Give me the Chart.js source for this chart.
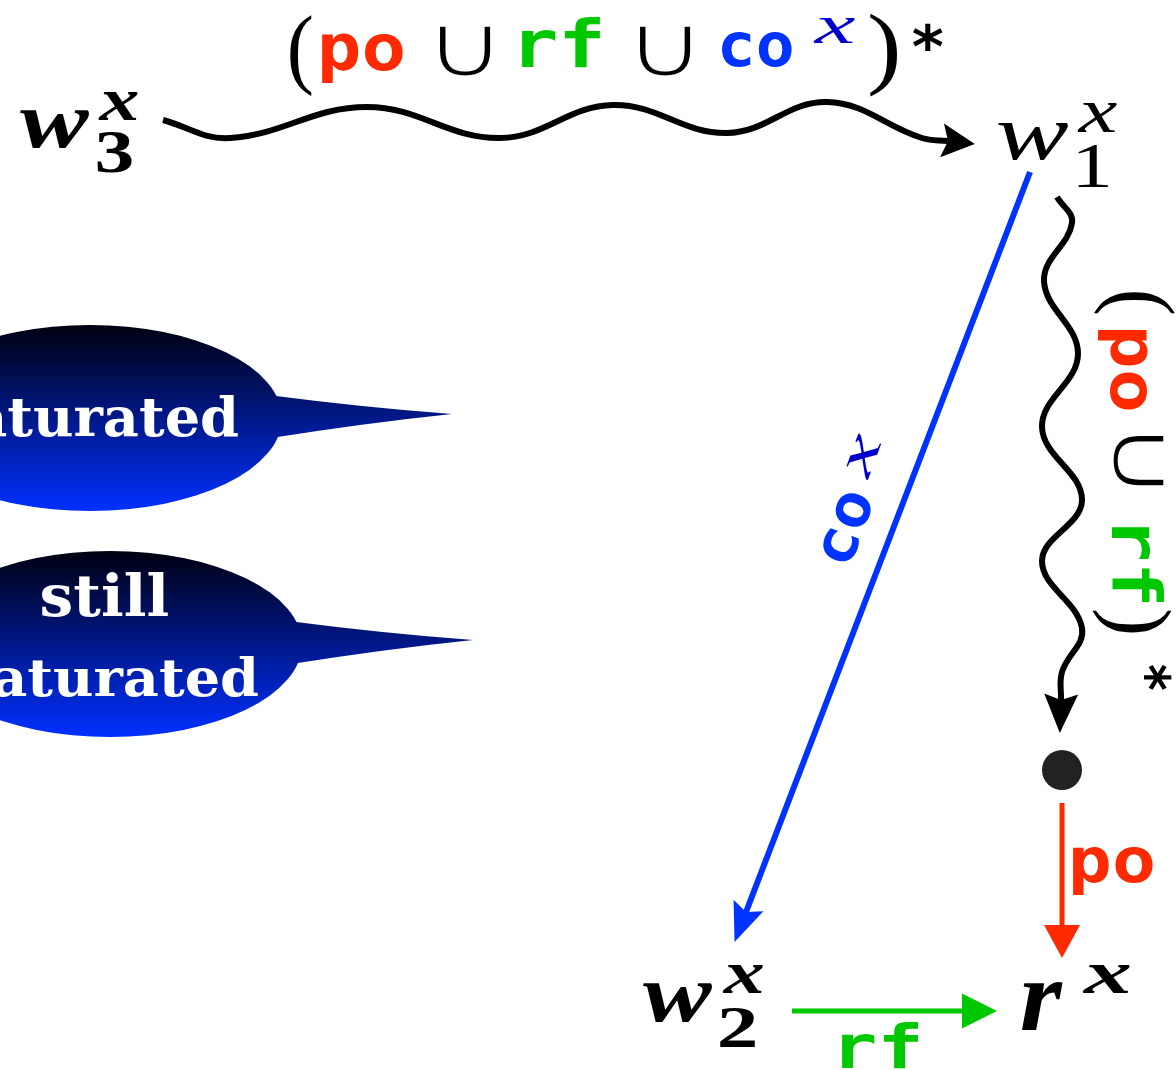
<!DOCTYPE html>
<html>
<head>
<meta charset="utf-8">
<script src="https://cdn.jsdelivr.net/npm/chart.js@4.4.0/dist/chart.umd.min.js"></script>
<style>
  html, body { margin: 0; padding: 0; background: #fff; }
  canvas { display: block; }
</style>
</head>
<body>
<canvas id="diagram" width="1176" height="1070"></canvas>
<script>
// path points (pixel units of the 1176x1070 frame)
const topWaveX = [163, 230, 367, 500, 613, 727, 827, 922, 948];
const topWaveY = [120, 138, 107, 138, 105, 133, 102, 138, 141];
const sideWaveX = [1057, 1072, 1044, 1078, 1042, 1082, 1042, 1082, 1062, 1061];
const sideWaveY = [197, 223, 281, 354, 427, 500, 561, 628, 672, 700];
const coEdgeX = [1030, 746];
const coEdgeY = [172, 912];
const poEdgeX = [1062, 1062];
const poEdgeY = [803, 925];
const rfEdgeX = [792, 962];
const rfEdgeY = [1011, 1011];
const dotX = [1062];
const dotY = [770];

// speech bubbles
const bubbleX = [90, 110];
const bubbleY = [418, 644];
const bubbleTipX = [452, 473];
const bubbleTipY = [414, 640];

const RED = '#ff2a00';
const GREEN = '#00c800';
const BLUE = '#0033ff';
const DARKBLUE = '#0000cc';
const BLACK = '#000000';

const pts = (xs, ys) => xs.map((x, i) => ({ x: x, y: ys[i] }));

// arrow heads per dataset: length, half width, back sweep (0 = plain triangle)
const heads = [
  { len: 27, half: 17, sweep: 6 },
  { len: 33, half: 17, sweep: 6 },
  { len: 32, half: 16, sweep: 7 },
  { len: 33, half: 18, sweep: 0 },
  { len: 35, half: 17.5, sweep: 0 },
  null
];

// text pieces: text, font, centre x, centre y, width, height, rotation, colour, thin
const SERIF = '{s}px "Liberation Serif"';
const MATH = 'italic {s}px "Liberation Serif"';
const BMATH = 'italic bold {s}px "Liberation Serif"';
const BNUM = 'bold {s}px "Liberation Serif"';
const MONO = 'bold {s}px "DejaVu Sans Mono"';
const CUP = '{s}px "DejaVu Sans"';
const STAR = 'bold {s}px "DejaVu Sans"';
const BUB = 'bold {s}px "DejaVu Serif"';

const texts = [
  // (po ∪ rf ∪ co^x)*
  ['(', SERIF, 301, 56, 22, 82, 0, BLACK],
  ['po', MONO, 362.5, 58, 81, 50, 0, RED],
  ['\u222A', CUP, 465, 51, 56, 52, 0, BLACK, 1.6],
  ['rf', MONO, 561, 42, 78, 50, 0, GREEN],
  ['\u222A', CUP, 665, 51, 56, 52, 0, BLACK, 1.6],
  ['co', MONO, 757, 49.5, 70, 35, 0, BLUE],
  ['x', MATH, 834, 30.5, 42, 25, 0, DARKBLUE],
  [')', SERIF, 883.5, 55, 27, 84, 0, BLACK],
  ['*', STAR, 928, 36, 30, 28, 0, BLACK],
  // nodes
  ['w', BMATH, 55, 129, 70, 38, 0, BLACK],
  ['x', BMATH, 118, 106, 40, 28, 0, BLACK],
  ['3', BNUM, 114.5, 152.5, 35, 41, 0, BLACK],
  ['w', MATH, 1033, 141.5, 70, 37, 0, BLACK],
  ['x', MATH, 1097, 117.5, 40, 29, 0, BLACK],
  ['1', SERIF, 1093, 166, 30, 42, 0, BLACK],
  ['w', BMATH, 678, 1002.5, 70, 39, 0, BLACK],
  ['x', BMATH, 742.5, 979, 41, 28, 0, BLACK],
  ['2', BNUM, 737.5, 1028, 35, 40, 0, BLACK],
  ['r', BMATH, 1042.5, 1006, 41, 48, 0, BLACK],
  ['x', BMATH, 1106, 979, 48, 28, 0, BLACK],
  // edge labels
  ['rf', MONO, 880, 1045, 76, 46, 0, GREEN],
  ['po', MONO, 1113, 871, 80, 48, 0, RED],
  ['co', MONO, 846.5, 527, 70, 35, -70, BLUE],
  ['x', MATH, 863, 457, 42, 25, -70, DARKBLUE],
  // (po ∪ rf)* along the right edge
  ['(', SERIF, 1134, 303, 22, 82, 90, BLACK],
  ['po', MONO, 1123, 370, 80, 50, 90, RED],
  ['\u222A', CUP, 1138.5, 460.5, 55, 53, 90, BLACK, 1.6],
  ['rf', MONO, 1137.5, 564.5, 75, 51, 90, GREEN],
  [')', SERIF, 1132, 621.5, 22, 80, 90, BLACK],
  ['*', STAR, 1159, 677.5, 25, 28, 90, BLACK]
];

const bubbleTexts = [
  ['saturated', BUB, 90, 416, 296, 42, 0, '#ffffff'],
  ['still', BUB, 105, 595, 126, 44, 0, '#ffffff'],
  ['saturated', BUB, 110, 677, 296, 40, 0, '#ffffff']
];

function drawPiece(ctx, p, xs, ys) {
  const [text, font, cx, cy, w, h, rot, color, thin] = p;
  ctx.save();
  ctx.font = font.replace('{s}', '100');
  const m = ctx.measureText(text);
  const L = m.actualBoundingBoxLeft, R = m.actualBoundingBoxRight;
  const A = m.actualBoundingBoxAscent, D = m.actualBoundingBoxDescent;
  const sy = h / (A + D);
  const sx = w ? w / (L + R) : sy;
  ctx.translate(xs.getPixelForValue(cx), ys.getPixelForValue(cy));
  ctx.rotate(rot * Math.PI / 180);
  ctx.scale(sx, sy);
  ctx.fillStyle = color;
  ctx.textAlign = 'left';
  ctx.textBaseline = 'alphabetic';
  const ox = -(R - L) / 2, oy = (A - D) / 2;
  ctx.fillText(text, ox, oy);
  if (thin) {
    // erode the glyph a little so the union sign keeps a light stroke
    ctx.strokeStyle = '#ffffff';
    ctx.lineWidth = 2 * thin / Math.min(sx, sy);
    ctx.lineJoin = 'round';
    ctx.strokeText(text, ox, oy);
  }
  ctx.restore();
}

const bubblePlugin = {
  id: 'bubbles',
  beforeDatasetsDraw(chart) {
    const ctx = chart.ctx;
    const xs = chart.scales.x, ys = chart.scales.y;
    const rx = 192, ry = 93;
    bubbleX.forEach((bx, i) => {
      const cx = xs.getPixelForValue(bx), cy = ys.getPixelForValue(bubbleY[i]);
      const tx = xs.getPixelForValue(bubbleTipX[i]), ty = ys.getPixelForValue(bubbleTipY[i]);
      const a1 = -0.25, a2 = 0.22;
      const p1 = [cx + rx * Math.cos(a1), cy + ry * Math.sin(a1)];
      const p2 = [cx + rx * Math.cos(a2), cy + ry * Math.sin(a2)];
      const g = ctx.createLinearGradient(0, cy - ry, 0, cy + ry);
      g.addColorStop(0, '#000010');
      g.addColorStop(1, '#0030ff');
      ctx.save();
      ctx.fillStyle = g;
      ctx.beginPath();
      ctx.ellipse(cx, cy, rx, ry, 0, 0, Math.PI * 2);
      ctx.fill();
      ctx.beginPath();
      ctx.moveTo(p1[0] - 8, p1[1]);
      ctx.quadraticCurveTo((p1[0] + tx) / 2, (p1[1] + ty) / 2 + 3, tx, ty);
      ctx.quadraticCurveTo((p2[0] + tx) / 2, (p2[1] + ty) / 2 - 3, p2[0] - 8, p2[1]);
      ctx.closePath();
      ctx.fill();
      ctx.restore();
    });
    bubbleTexts.forEach(p => drawPiece(ctx, p, xs, ys));
  }
};

const arrowPlugin = {
  id: 'arrows',
  afterDatasetsDraw(chart) {
    const ctx = chart.ctx;
    chart.data.datasets.forEach((ds, i) => {
      const h = heads[i];
      if (!h) return;
      const meta = chart.getDatasetMeta(i);
      const n = meta.data.length;
      const a = meta.data[n - 2], b = meta.data[n - 1];
      let ux = b.x - a.x, uy = b.y - a.y;
      const d = Math.hypot(ux, uy);
      ux /= d; uy /= d;
      const nx = -uy, ny = ux;
      const tip = [b.x + h.len * ux, b.y + h.len * uy];
      ctx.save();
      ctx.fillStyle = ds.borderColor;
      ctx.beginPath();
      ctx.moveTo(tip[0], tip[1]);
      ctx.lineTo(b.x - h.sweep * ux + h.half * nx, b.y - h.sweep * uy + h.half * ny);
      ctx.lineTo(b.x, b.y);
      ctx.lineTo(b.x - h.sweep * ux - h.half * nx, b.y - h.sweep * uy - h.half * ny);
      ctx.closePath();
      ctx.fill();
      ctx.restore();
    });
    texts.forEach(p => drawPiece(ctx, p, chart.scales.x, chart.scales.y));
  }
};

const line = (data, color, width) => ({
  data: data,
  showLine: true,
  borderColor: color,
  borderWidth: width,
  tension: 0.4,
  pointRadius: 0,
  fill: false
});

new Chart(document.getElementById('diagram').getContext('2d'), {
  type: 'scatter',
  data: {
    datasets: [
      line(pts(topWaveX, topWaveY), BLACK, 6),
      line(pts(sideWaveX, sideWaveY), BLACK, 6),
      line(pts(coEdgeX, coEdgeY), BLUE, 6),
      line(pts(poEdgeX, poEdgeY), RED, 5),
      line(pts(rfEdgeX, rfEdgeY), GREEN, 5),
      {
        data: pts(dotX, dotY),
        pointRadius: 20,
        pointBackgroundColor: '#222222',
        pointBorderWidth: 0,
        showLine: false
      }
    ]
  },
  options: {
    responsive: false,
    animation: false,
    layout: { padding: 0, autoPadding: false },
    plugins: {
      legend: { display: false },
      tooltip: { enabled: false }
    },
    scales: {
      x: { type: 'linear', min: 0, max: 1176, display: false },
      y: { type: 'linear', min: 0, max: 1070, reverse: true, display: false }
    }
  },
  plugins: [bubblePlugin, arrowPlugin]
});
</script>
</body>
</html>
